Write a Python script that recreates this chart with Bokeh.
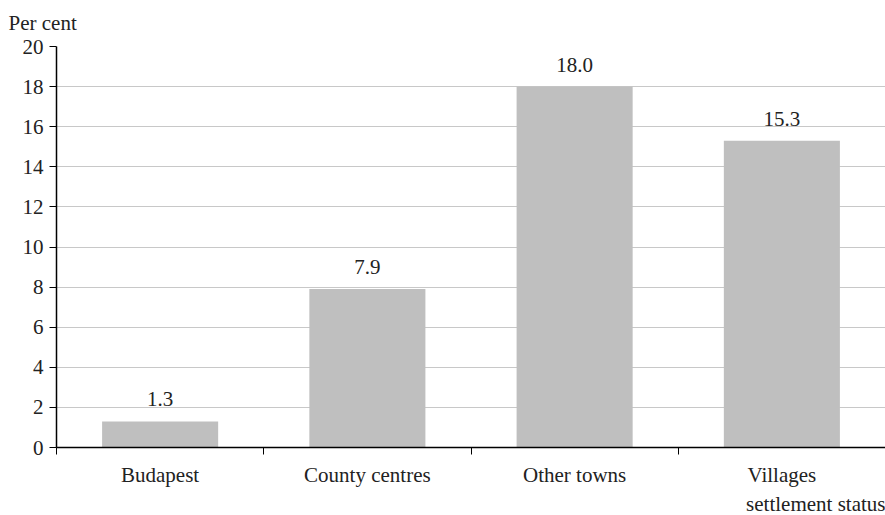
from bokeh.plotting import figure
from bokeh.models import Range1d, FixedTicker, ColumnDataSource, Title
from bokeh.embed import file_html
from bokeh.resources import INLINE
from bokeh.core.properties import value

categories = ["Budapest", "County centres", "Other towns", "Villages"]
values = [1.3, 7.9, 18.0, 15.3]
y_ticks = [0, 2, 4, 6, 8, 10, 12, 14, 16, 18, 20]

FONT = "Liberation Serif"
FS = "21px"
TC = "#222222"
xs = [i + 0.5 for i in range(len(categories))]

p = figure(width=885, height=515, output_backend="svg", toolbar_location=None,
           x_range=Range1d(0, len(categories)), y_range=Range1d(0, 20),
           min_border_left=56, min_border_top=46, min_border_bottom=67, min_border_right=0)
p.outline_line_color = None
p.xgrid.grid_line_color = None
p.ygrid.grid_line_color = "#c8c8c8"
p.ygrid.grid_line_width = 1

src = ColumnDataSource(dict(x=xs, top=values, lab=[f"{v:.1f}" for v in values]))
p.vbar(x="x", top="top", width=0.56, bottom=0, source=src, fill_color="#bfbfbf", line_color=None)
p.text(x="x", y="top", text="lab", source=src, text_align="center", text_baseline="alphabetic",
       y_offset=-22, text_font=value(FONT), text_font_size=FS, text_color=TC)

# x axis
xa = p.xaxis[0]
xa.ticker = FixedTicker(ticks=xs, minor_ticks=list(range(len(categories) + 1)))
xa.major_label_overrides = {x: c for x, c in zip(xs, categories)}
xa.major_tick_line_color = None
xa.major_tick_out = 0
xa.major_tick_in = 0
xa.minor_tick_line_color = "black"
xa.minor_tick_out = 7
xa.minor_tick_in = 0
xa.minor_tick_line_width = 1
xa.axis_line_width = 1.5
xa.axis_line_color = "black"
xa.major_label_text_font = FONT
xa.major_label_text_font_size = FS
xa.major_label_text_color = TC
xa.major_label_standoff = 8

ya = p.yaxis[0]
ya.ticker = FixedTicker(ticks=y_ticks)
ya.minor_tick_line_color = None
ya.major_tick_out = 7
ya.major_tick_in = 0
ya.axis_line_width = 1.5
ya.major_label_text_font = FONT
ya.major_label_text_font_size = FS
ya.major_label_text_color = TC
ya.major_label_standoff = 6

# spacer title closest to the frame, then the unit label above it
p.add_layout(Title(text=" ", align="left", text_font=FONT, text_font_size="9px",
                   standoff=0), "above")
p.add_layout(Title(text="Per cent", align="left", offset=-48, text_font=FONT,
                   text_font_size=FS, text_font_style="normal", text_color=TC,
                   standoff=0), "above")
p.add_layout(Title(text="settlement status", align="right", text_font=FONT,
                   text_font_size=FS, text_font_style="normal", text_color=TC,
                   standoff=0), "below")

open("out.html", "w").write(file_html(p, INLINE))
